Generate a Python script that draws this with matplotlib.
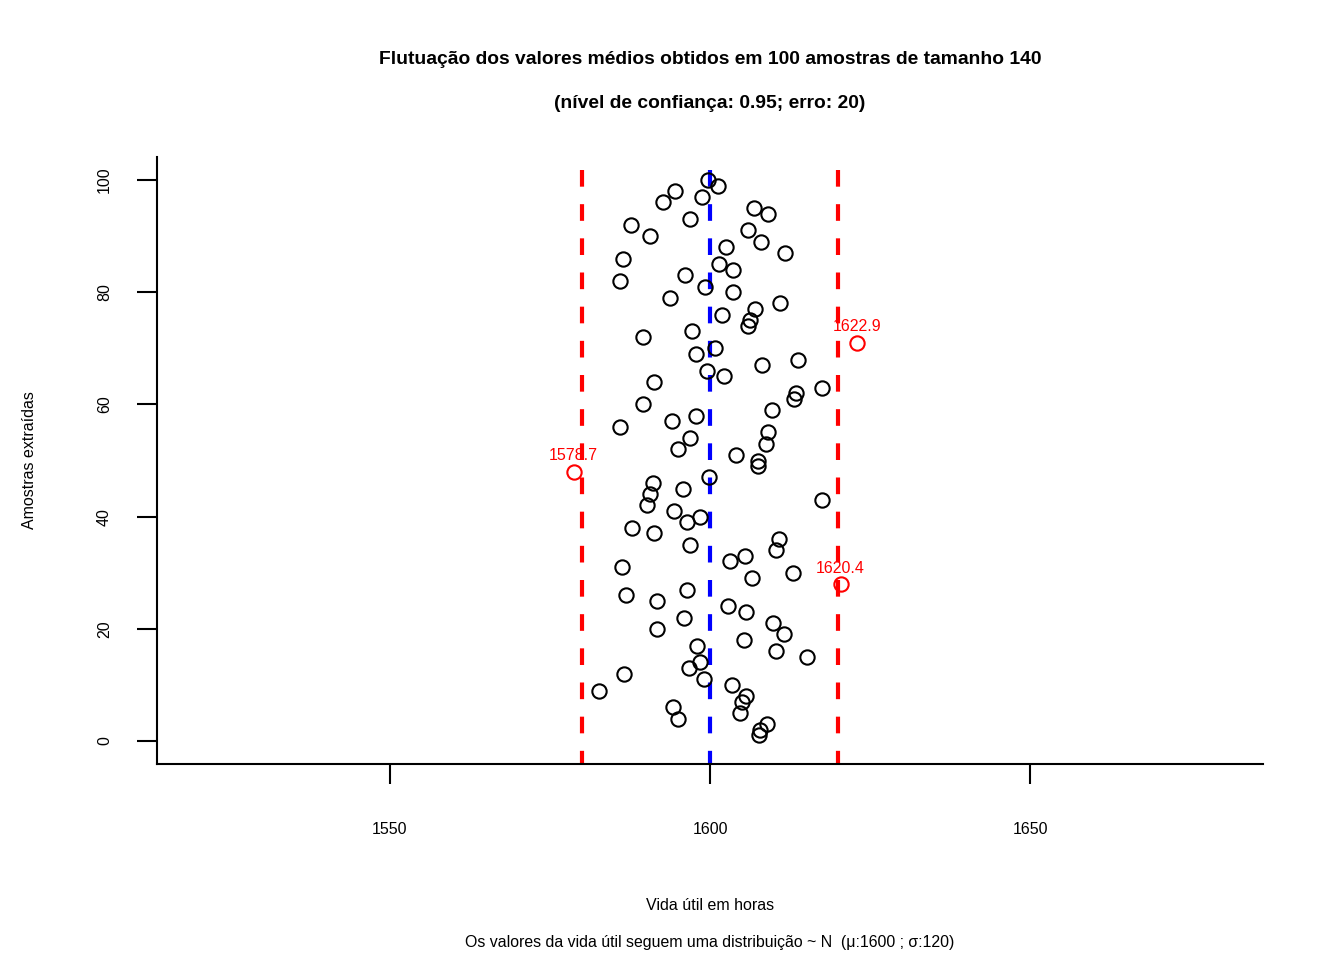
import matplotlib
matplotlib.use("Agg")
import matplotlib.pyplot as plt
import numpy as np

plt.rcParams['font.family'] = ['Liberation Sans', 'DejaVu Sans']

# sample means, sample 1..100
medias = [1607.7, 1607.8, 1608.9, 1595.0, 1604.7, 1594.2, 1605.0, 1605.6, 1582.7, 1603.4,
          1599.1, 1586.6, 1596.7, 1598.4, 1615.2, 1610.3, 1598.0, 1605.3, 1611.6, 1591.7,
          1609.8, 1595.9, 1605.6, 1602.8, 1591.7, 1586.9, 1596.4, 1620.4, 1606.6, 1613.0,
          1586.3, 1603.1, 1605.5, 1610.3, 1596.9, 1610.8, 1591.3, 1587.8, 1596.4, 1598.4,
          1594.4, 1590.2, 1617.5, 1590.6, 1595.8, 1591.1, 1599.8, 1578.7, 1607.5, 1607.5,
          1604.1, 1595.0, 1608.75, 1596.9, 1609.1, 1585.9, 1594.1, 1597.8, 1609.7, 1589.5,
          1613.1, 1613.4, 1617.5, 1591.25, 1602.2, 1599.5, 1608.1, 1613.75, 1597.8, 1600.8,
          1622.9, 1589.5, 1597.2, 1605.9, 1606.25, 1601.9, 1607.0, 1610.9, 1593.75, 1603.6,
          1599.2, 1585.9, 1596.1, 1603.6, 1601.4, 1586.4, 1611.7, 1602.5, 1608.0, 1590.6,
          1605.9, 1587.7, 1596.9, 1609.1, 1606.9, 1592.7, 1598.75, 1594.5, 1601.25, 1599.7]
amostras = np.arange(1, len(medias) + 1)
mu = 1600
erro = 20
xticks = [1550, 1600, 1650]
yticks = [0, 20, 40, 60, 80, 100]

medias = np.array(medias)
fora = (medias < mu - erro) | (medias > mu + erro)

fig = plt.figure(figsize=(13.44, 9.6), dpi=100)
ax = fig.add_axes([157/1344, (960-764)/960, (1263-157)/1344, (764-157)/960])

ax.plot(medias[~fora], amostras[~fora], 'o', mfc='none', mec='black', ms=10.3, mew=1.5)
ax.plot(medias[fora], amostras[fora], 'o', mfc='none', mec='red', ms=10.3, mew=1.5)
for m, a in zip(medias[fora], amostras[fora]):
    ax.annotate('%.1f' % m, (m, a), xytext=(0, 6), textcoords='offset points',
                ha='center', va='bottom', color='red', fontsize=11.5)

ytop = 101.8
ybot = -4.1
for xv, c in [(mu - erro, 'red'), (mu, 'blue'), (mu + erro, 'red')]:
    ax.plot([xv, xv], [ytop, ybot], color=c, lw=3, dashes=(4, 4.2), zorder=1)

ax.set_xlim(1513.6, 1686.4)
ax.set_ylim(-4.1, 104.1)
ax.spines['top'].set_visible(False)
ax.spines['right'].set_visible(False)
ax.spines['left'].set_linewidth(1.5)
ax.spines['bottom'].set_linewidth(1.5)
ax.set_xticks(xticks)
ax.set_yticks(yticks)
ax.set_yticklabels([str(v) for v in yticks], rotation=90, va='center')
ax.tick_params(axis='both', length=14.4, width=1.5, labelsize=11.5)
ax.tick_params(axis='x', pad=27)
ax.tick_params(axis='y', pad=18)

fig.text(710/1344, 1 - 59/960, 'Flutuação dos valores médios obtidos em 100 amostras de tamanho 140',
         ha='center', va='center', fontsize=13.9, fontweight='bold')
fig.text(710/1344, 1 - 104/960, '(nível de confiança: 0.95; erro: 20)',
         ha='center', va='center', fontsize=13.9, fontweight='bold')
fig.text(710/1344, 1 - 905/960, 'Vida útil em horas', ha='center', va='center', fontsize=11.5)
fig.text(710/1344, 1 - 942/960,
         'Os valores da vida útil seguem uma distribuição ~ N  (μ:1600 ; σ:120)',
         ha='center', va='center', fontsize=11.4)
fig.text(30/1344, 1 - 460/960, 'Amostras extraídas', ha='center', va='center',
         rotation=90, fontsize=11.5)

fig.savefig('out.png', dpi=100)
